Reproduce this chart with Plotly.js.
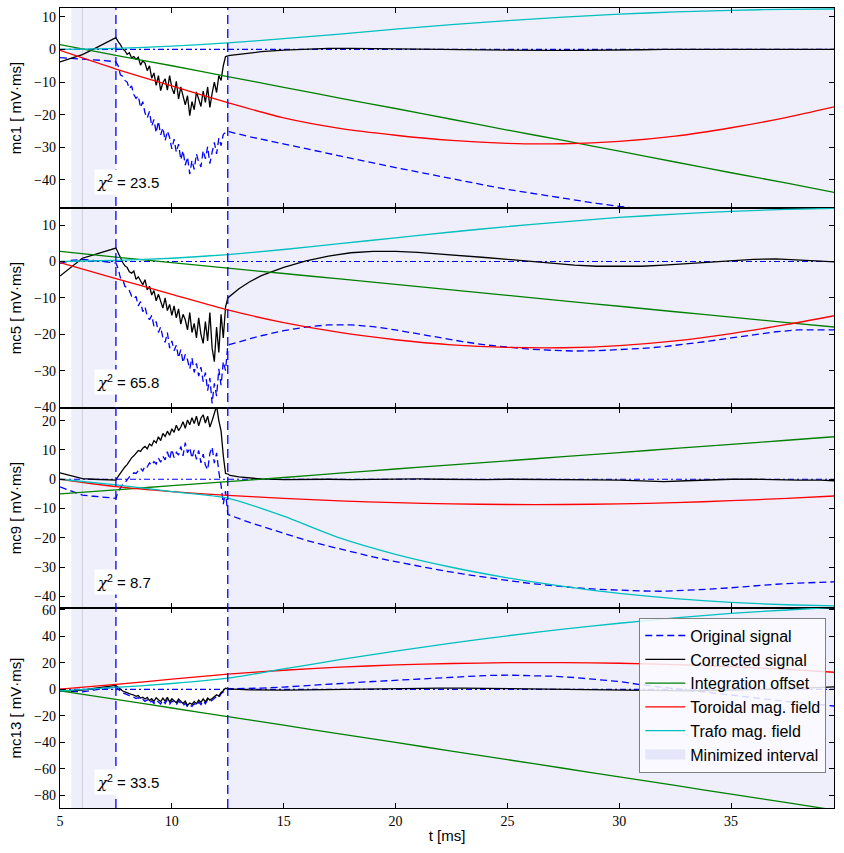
<!DOCTYPE html>
<html>
<head>
<meta charset="utf-8">
<script src="https://cdn.plot.ly/plotly-3.0.1.min.js"></script>
<style>html,body{margin:0;padding:0;background:#fff;}</style>
</head>
<body>
<div id="chart" style="width:844px;height:853px;"></div>
<script>
// ---------- time axes ----------
const tPre = [5, 5.5, 6, 6.5, 7];
const tNoise = [7.5, 7.6, 7.7, 7.8, 7.9,
  8.0, 8.1, 8.2, 8.3, 8.4, 8.5, 8.6, 8.7, 8.8, 8.9,
  9.0, 9.1, 9.2, 9.3, 9.4, 9.5, 9.6, 9.7, 9.8, 9.9,
  10.0, 10.1, 10.2, 10.3, 10.4, 10.5, 10.6, 10.7, 10.8, 10.9,
  11.0, 11.1, 11.2, 11.3, 11.4, 11.5, 11.6, 11.7, 11.8, 11.9,
  12.0, 12.1, 12.2, 12.3, 12.4, 12.5];
const tPost = [12.6, 13, 13.5, 14, 15, 16, 17, 18, 19, 20, 21, 22, 23, 24, 25, 26, 27, 28, 29, 30,
  31, 32, 33, 34, 35, 36, 37, 38, 39, 39.6];
const tSmooth = [5, 7.5, 10, 12.5, 15, 17.5, 20, 22.5, 25, 27.5, 30, 32.5, 35, 37.5, 39.6];
const tZero = [5, 39.6];
const zeroLine = [0, 0];

const tMin = 5, tMax = 39.6;
const markerTimes = [7.5, 12.5];
const intervalStart = [5.5, 12.5];
const intervalEnd = [7.5, 39.6];
const edgeTime = 6.0;

const channels = ['mc1', 'mc5', 'mc9', 'mc13'];
const chi2 = ['23.5', '65.8', '8.7', '33.5'];

// ---------- mc1 ----------
const mc1Orig = [
  -2.5, -2.8, -3.0, -3.2, -3.4,
  -3.8, -5.0, -7.8, -8.2, -9.5,
  -10.0, -12.0, -11.2, -13.8, -15.0, -14.2, -17.8, -16.0, -19.5, -21.0,
  -19.0, -23.5, -21.5, -25.5, -22.0, -26.2, -24.0, -28.0, -25.0, -27.0,
  -30.5, -27.5, -31.5, -29.0, -33.8, -31.0, -35.5, -33.0, -38.2, -34.0,
  -36.8, -32.0, -34.5, -36.0, -31.0, -33.5, -29.8, -35.0, -31.5, -28.5,
  -32.0, -27.2, -29.5, -26.0, -25.5, -25.0,
  -25.3, -26.0, -26.8, -27.5, -29.0, -30.5, -32.0, -33.4, -34.8, -36.2,
  -37.6, -39.0, -40.3, -41.6, -42.9, -44.0, -45.1, -46.2, -47.2, -48.1,
  -48.9, -49.6, -50.2, -50.7, -51.1, -51.4, -51.6, -51.7, -51.8, -51.8];
const mc1Corr = [
  -3.8, -2.7, -1.6, 0.1, 1.8,
  3.6, 2.4, 1.5, 0.2, -0.4,
  -1.5, -1.0, -2.6, -2.2, -3.0, -2.4, -4.8, -3.5, -4.2, -6.5,
  -5.0, -8.8, -7.2, -11.0, -8.0, -12.6, -10.2, -9.0, -12.5, -8.0,
  -11.8, -13.6, -9.8, -15.2, -11.5, -14.0, -17.0, -14.2, -20.3, -16.0,
  -18.5, -13.0, -15.5, -17.5, -12.8, -16.2, -11.5, -17.8, -13.5, -10.0,
  -13.2, -8.0, -9.5, -5.0, -2.2, -2.0,
  -1.8, -1.5, -1.1, -0.7, -0.2, 0.1, 0.3, 0.3, 0.3, 0.2,
  0.1, 0.0, -0.1, -0.1, -0.2, -0.3, -0.3, -0.3, -0.3, -0.2,
  -0.1, 0.0, 0.0, 0.0, 0.0, 0.0, 0.0, 0.0, 0.0, 0.0];
const mc1Offset = [1.5, -1.8, -5.0, -8.3, -11.6, -14.9, -18.1, -21.4, -24.7, -27.9, -31.2, -34.5, -37.8, -41.0, -43.8];
const mc1Toroidal = [-0.3, -6.0, -11.2, -16.3, -21.0, -24.2, -26.3, -27.9, -28.8, -28.9, -28.2, -26.6, -24.0, -20.8, -17.6];
const mc1Trafo = [0.0, 0.3, 1.0, 2.0, 3.3, 4.7, 6.2, 7.6, 8.8, 9.9, 10.8, 11.5, 12.0, 12.3, 12.4];

// ---------- mc5 ----------
const mc5Orig = [
  -0.5, 0.3, 0.6, 0.2, -0.1,
  -0.4, -2.0, -4.5, -4.8, -6.8,
  -7.2, -8.0, -9.5, -10.2, -9.6, -12.2, -11.0, -13.8, -12.5, -15.0,
  -16.0, -14.8, -17.8, -16.5, -19.5, -18.0, -21.0, -22.2, -19.5, -23.8,
  -21.8, -24.5, -23.0, -26.5, -24.2, -27.8, -25.5, -27.0, -29.5, -26.5,
  -30.5, -28.0, -31.5, -29.0, -33.0, -30.5, -35.5, -32.0, -39.0, -33.5,
  -37.0, -29.5, -34.0, -27.5, -30.0, -23.0,
  -22.8, -22.0, -21.2, -20.4, -19.0, -18.0, -17.4, -17.4, -17.9, -18.8,
  -19.9, -21.0, -22.0, -22.9, -23.6, -24.1, -24.4, -24.6, -24.5, -24.3,
  -23.9, -23.4, -22.7, -21.9, -21.0, -20.1, -19.3, -18.8, -18.7, -18.8];
const mc5Corr = [
  -4.0, -1.5, 0.9, 1.8, 2.7,
  3.7, 2.4, 0.9, -0.2, -1.2,
  -1.6, -2.8, -3.2, -2.6, -4.9, -4.2, -5.2, -6.4, -5.0, -7.8,
  -6.8, -9.2, -8.0, -10.8, -9.0, -11.2, -12.8, -10.0, -13.5, -11.8,
  -14.8, -12.2, -15.5, -13.0, -17.2, -14.5, -16.0, -18.8, -14.0, -19.5,
  -17.0, -21.0, -15.5, -20.0, -22.5, -16.5, -21.8, -14.0, -23.8, -27.5,
  -18.0, -25.0, -14.5, -21.0, -12.5, -10.0,
  -9.5, -7.5, -5.5, -3.9, -1.6, 0.2, 1.5, 2.4, 2.8, 2.8,
  2.5, 2.1, 1.6, 1.1, 0.6, 0.0, -0.5, -1.0, -1.3, -1.4,
  -1.3, -1.0, -0.6, -0.1, 0.3, 0.6, 0.7, 0.5, 0.1, -0.1];
const mc5Offset = [2.8, 1.2, -0.3, -1.8, -3.3, -4.8, -6.3, -7.8, -9.3, -10.8, -12.3, -13.8, -15.3, -16.8, -18.0];
const mc5Toroidal = [-0.3, -4.7, -9.0, -13.3, -16.8, -19.5, -21.5, -22.9, -23.6, -23.7, -23.1, -21.8, -19.8, -17.3, -14.9];
const mc5Trafo = [0.0, 0.3, 0.9, 1.9, 3.3, 4.9, 6.5, 8.1, 9.6, 10.9, 12.1, 13.0, 13.8, 14.3, 14.6];

// ---------- mc9 ----------
const mc9Orig = [
  -2.6, -4.0, -5.4, -5.8, -6.2,
  -6.5, -4.2, -3.0, -1.8, -1.2,
  0.0, 0.8, 1.2, 2.2, 2.0, 3.0, 3.8, 2.8, 4.6, 4.2,
  5.6, 4.8, 6.0, 5.2, 7.2, 5.8, 7.8, 6.6, 9.4, 6.8,
  10.2, 7.4, 9.2, 8.2, 11.2, 8.0, 12.5, 9.0, 10.8, 7.2,
  10.0, 6.8, 9.8, 5.6, 8.6, 4.8, 3.2, 8.8, 11.0, 5.5,
  9.0, 2.5, -2.0, -8.5, -4.0, -12.0,
  -12.3, -13.5, -14.8, -16.0, -18.5, -20.8, -22.8, -24.7, -26.5, -28.1,
  -29.6, -31.0, -32.3, -33.5, -34.5, -35.5, -36.3, -37.0, -37.5, -37.9,
  -38.1, -38.2, -37.9, -37.5, -37.0, -36.3, -35.8, -35.4, -35.1, -35.0];
const mc9Corr = [
  2.2, 1.2, 0.2, 0.0, -0.2,
  -0.3, 1.0, 2.2, 3.0, 4.2,
  5.0, 6.2, 7.3, 8.0, 8.8, 9.8, 9.5, 10.6, 11.2, 10.4,
  12.0, 11.4, 13.2, 12.4, 14.5, 13.2, 15.6, 14.6, 16.4, 15.0,
  17.2, 16.0, 18.4, 16.6, 17.8, 19.6, 17.4, 20.2, 18.6, 21.0,
  19.0, 21.5, 18.2, 20.8, 22.0, 19.2, 21.5, 17.8, 20.0, 22.8,
  25.0, 20.0, 16.5, 8.0, 2.0, 1.8,
  1.3, 0.8, 0.4, 0.1, -0.1, 0.0, 0.0, -0.1, 0.0, 0.0,
  0.1, 0.0, -0.1, -0.1, 0.0, 0.0, -0.1, -0.2, -0.2, -0.3,
  -0.6, -0.8, -0.5, -0.2, 0.0, 0.0, -0.2, -0.3, -0.3, -0.5];
const mc9Offset = [-5.0, -3.6, -2.2, -0.8, 0.6, 2.1, 3.5, 4.9, 6.3, 7.7, 9.1, 10.5, 11.9, 13.3, 14.5];
const mc9Toroidal = [0.0, -2.5, -4.2, -5.5, -6.5, -7.4, -8.0, -8.4, -8.6, -8.6, -8.4, -8.0, -7.3, -6.5, -5.7];
const mc9Trafo = [0.0, -1.9, -4.2, -6.4, -12.6, -20.0, -25.6, -30.0, -33.6, -36.5, -38.9, -40.7, -42.0, -42.8, -43.2];

// ---------- mc13 ----------
const mc13Orig = [
  -1.0, -1.5, -1.8, -0.5, 0.5,
  2.0, 0.2, -1.2, -2.6, -3.2,
  -4.2, -4.6, -5.4, -5.8, -6.8, -6.2, -8.2, -7.4, -9.0, -7.8,
  -10.2, -8.6, -10.6, -8.0, -9.4, -11.0, -8.2, -10.6, -7.6, -11.2,
  -8.6, -9.8, -11.6, -8.8, -10.6, -12.2, -10.4, -13.2, -11.8, -12.8,
  -10.6, -12.4, -9.6, -11.4, -8.6, -10.8, -7.8, -9.4, -8.2, -6.6,
  -5.2, -6.2, -3.2, -2.0, 0.0, 0.5,
  0.5, 0.6, 0.8, 1.0, 1.8, 3.0, 4.0, 5.0, 6.0, 7.0,
  8.0, 9.0, 9.8, 10.5, 10.8, 10.6, 10.0, 9.0, 7.5, 6.0,
  3.5, 1.5, -0.5, -2.5, -4.5, -6.5, -8.5, -10.0, -11.5, -12.5];
const mc13Corr = [
  -1.5, -1.0, -0.5, 0.8, 2.0,
  3.0, 1.6, 0.2, -1.2, -1.8,
  -2.8, -3.2, -3.8, -4.2, -5.2, -4.6, -6.5, -5.8, -7.2, -6.0,
  -8.4, -7.0, -9.0, -6.2, -7.8, -9.2, -6.5, -8.8, -6.0, -9.4,
  -7.0, -8.2, -10.0, -7.2, -9.0, -10.6, -8.8, -12.0, -10.2, -11.2,
  -9.0, -10.8, -8.0, -9.8, -7.2, -9.4, -6.4, -8.0, -6.8, -5.2,
  -4.0, -5.0, -2.2, -1.0, 1.0, 0.5,
  0.3, 0.0, -0.3, -0.5, -0.5, -0.3, 0.0, 0.3, 0.6, 0.8,
  1.0, 1.0, 1.0, 0.8, 0.6, 0.3, 0.0, -0.3, -0.6, -0.8,
  -1.0, -1.0, -1.0, -0.8, -0.6, -0.3, 0.2, 0.8, 1.5, 2.0];
const mc13Offset = [-1.0, -7.5, -14.0, -20.5, -27.0, -33.5, -40.0, -46.5, -53.0, -59.5, -66.0, -72.5, -79.0, -85.5, -91.0];
const mc13Toroidal = [0.2, 3.8, 7.8, 11.6, 14.5, 16.8, 18.5, 19.6, 20.2, 20.3, 19.8, 18.8, 17.3, 15.2, 13.0];
const mc13Trafo = [-1.0, 1.5, 4.5, 8.5, 15.5, 22.5, 29.0, 35.0, 40.5, 45.5, 50.0, 54.0, 57.5, 60.0, 62.0];

// axis settings per panel
const yRanges = [[-48.6, 12.7], [-40.25, 14.7], [-43.9, 24.3], [-89.5, 61.5]];
const yDticks = [10, 10, 10, 20];
const seriesNames = ['Original signal', 'Corrected signal', 'Integration offset', 'Toroidal mag. field', 'Trafo mag. field', 'Minimized interval'];

// ---------- build ----------
const tFull = tPre.concat(tNoise, tPost);
const panels = [
  [mc1Orig, mc1Corr, mc1Offset, mc1Toroidal, mc1Trafo],
  [mc5Orig, mc5Corr, mc5Offset, mc5Toroidal, mc5Trafo],
  [mc9Orig, mc9Corr, mc9Offset, mc9Toroidal, mc9Trafo],
  [mc13Orig, mc13Corr, mc13Offset, mc13Toroidal, mc13Trafo]
];
const COL = {blue: '#0000ff', black: '#000000', green: '#008000', red: '#ff0000', cyan: '#00bfbf', span: '#e6e6fa'};
const LW = 1.3;
const traces = [];
panels.forEach((p, i) => {
  const xa = i === 0 ? 'x' : 'x' + (i + 1);
  const ya = i === 0 ? 'y' : 'y' + (i + 1);
  const leg = i === 0;
  traces.push({x: tZero, y: zeroLine, xaxis: xa, yaxis: ya, mode: 'lines', showlegend: false, hoverinfo: 'skip',
    line: {color: COL.blue, width: 1.2, dash: '6px,3px,2px,3px'}});
  traces.push({x: tFull, y: p[0], xaxis: xa, yaxis: ya, mode: 'lines', name: seriesNames[0], showlegend: leg,
    line: {color: COL.blue, width: LW, dash: '7px,4px'}});
  traces.push({x: tFull, y: p[1], xaxis: xa, yaxis: ya, mode: 'lines', name: seriesNames[1], showlegend: leg,
    line: {color: COL.black, width: LW}});
  traces.push({x: tSmooth, y: p[2], xaxis: xa, yaxis: ya, mode: 'lines', name: seriesNames[2], showlegend: leg,
    line: {color: COL.green, width: LW, shape: 'spline', smoothing: 0.6}});
  traces.push({x: tSmooth, y: p[3], xaxis: xa, yaxis: ya, mode: 'lines', name: seriesNames[3], showlegend: leg,
    line: {color: COL.red, width: LW, shape: 'spline', smoothing: 0.6}});
  traces.push({x: tSmooth, y: p[4], xaxis: xa, yaxis: ya, mode: 'lines', name: seriesNames[4], showlegend: leg,
    line: {color: COL.cyan, width: LW, shape: 'spline', smoothing: 0.6}});
});
// legend-only entry for the shaded interval
traces.push({x: [null], y: [null], mode: 'lines', name: seriesNames[5], showlegend: true, hoverinfo: 'skip',
  line: {color: COL.span, width: 12}});

const tickFont = {family: 'Liberation Serif, DejaVu Serif, serif', size: 14, color: '#000'};
const labelFont = {family: 'Liberation Sans, Arial, sans-serif', size: 15, color: '#000'};

const layout = {
  width: 844, height: 853,
  margin: {l: 60, r: 10, t: 8, b: 45},
  paper_bgcolor: '#fff', plot_bgcolor: '#fff',
  showlegend: true,
  legend: {
    x: 0.99, xanchor: 'right', y: 0.238, yanchor: 'top',
    bgcolor: 'rgba(250,250,255,0.85)', bordercolor: '#808080', borderwidth: 1,
    font: {family: 'Liberation Sans, Arial, sans-serif', size: 16, color: '#000'},
    itemwidth: 40
  },
  shapes: [],
  annotations: []
};

for (let i = 0; i < 4; i++) {
  const sfx = i === 0 ? '' : String(i + 1);
  const dom = [1 - (i + 1) * 0.25, 1 - i * 0.25];
  layout['xaxis' + sfx] = {
    anchor: 'y' + sfx, domain: [0, 1], range: [tMin, tMax],
    matches: i === 0 ? undefined : 'x',
    showticklabels: i === 3, tickvals: [5, 10, 15, 20, 25, 30, 35],
    ticks: 'inside', ticklen: 5, tickwidth: 1, tickcolor: '#000',
    showline: true, mirror: 'ticks', linecolor: '#000', linewidth: 1.3,
    showgrid: false, zeroline: false, tickfont: tickFont,
    title: i === 3 ? {text: 't [ms]', font: labelFont, standoff: 2} : undefined
  };
  layout['yaxis' + sfx] = {
    anchor: 'x' + sfx, domain: dom, range: yRanges[i], dtick: yDticks[i], tick0: 0,
    ticks: 'inside', ticklen: 5, tickwidth: 1, tickcolor: '#000',
    showline: true, mirror: 'ticks', linecolor: '#000', linewidth: 1.3,
    showgrid: false, zeroline: false, tickfont: tickFont,
    title: {text: channels[i] + ' [ mV·ms]', font: labelFont, standoff: 8}
  };
  layout.annotations.push({
    xref: 'x' + sfx + ' domain', yref: 'y' + sfx + ' domain', x: 0.044, y: 0.13,
    xanchor: 'left', yanchor: 'middle', showarrow: false, bgcolor: '#ffffff', borderpad: 2,
    text: "<span style=\"font-family:'DejaVu Serif';font-style:italic\">χ</span><sup>2</sup> = " + chi2[i],
    font: {family: 'Liberation Sans, Arial, sans-serif', size: 15, color: '#000'}
  });
}

// shaded minimized intervals
intervalStart.forEach((s, k) => {
  layout.shapes.push({
    type: 'rect', xref: 'x', yref: 'paper', x0: s, x1: intervalEnd[k], y0: 0, y1: 1,
    fillcolor: COL.span, opacity: 0.65, line: {width: 0}, layer: 'below'
  });
});
layout.shapes.push({
  type: 'line', xref: 'x', yref: 'paper', x0: edgeTime, x1: edgeTime, y0: 0, y1: 1,
  line: {color: '#cfcfdc', width: 1}, layer: 'below'
});
markerTimes.forEach(m => {
  layout.shapes.push({
    type: 'line', xref: 'x', yref: 'paper', x0: m, x1: m, y0: 0, y1: 1,
    line: {color: COL.blue, width: 1.3, dash: '9px,5px'}, layer: 'above'
  });
});

Plotly.newPlot('chart', traces, layout, {staticPlot: true, displayModeBar: false});
</script>
</body>
</html>
